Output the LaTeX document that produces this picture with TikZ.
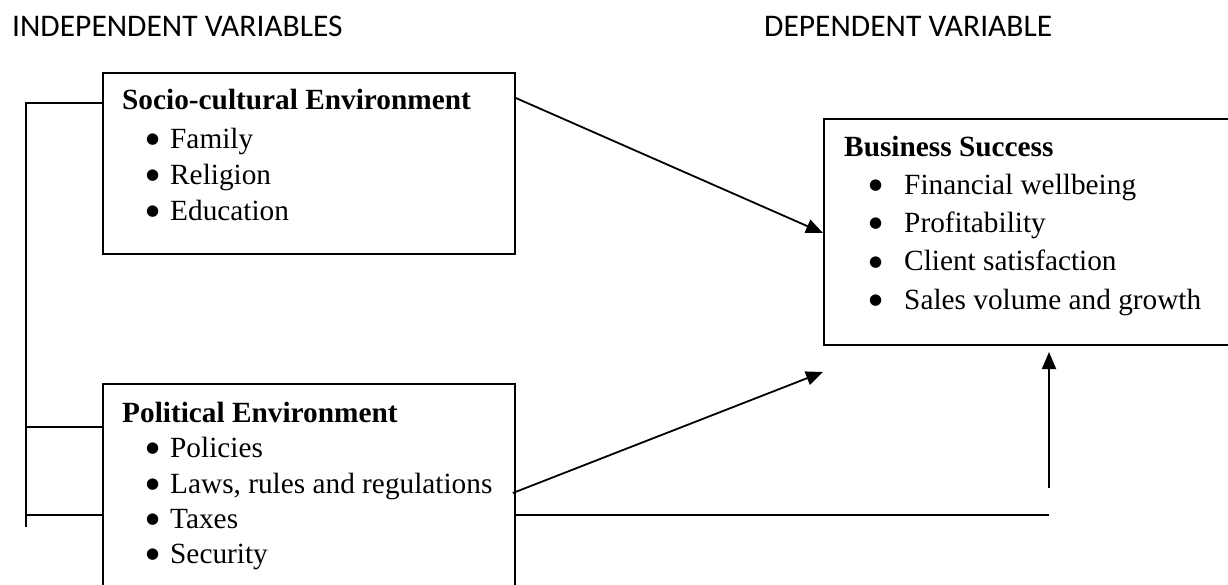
\documentclass[tikz,border=0pt]{standalone}
\usepackage{fontspec}
\setmainfont{Liberation Serif}
\newfontfamily\hdrfont{Carlito}
\newfontfamily\symfont{DejaVu Sans}
\usetikzlibrary{arrows.meta,calc}
\tikzset{
  box/.style={draw, line width=1.8pt, inner sep=0pt, anchor=north west},
  conn/.style={line width=1.8pt},
  arr/.style={line width=1.8pt, -{Triangle[length=17pt,width=14pt]}},
  hdr/.style={inner sep=0pt, anchor=base west, font=\hdrfont\fontsize{31.5}{36}\selectfont},
  ttl/.style={inner sep=0pt, anchor=base west, font=\bfseries\fontsize{29.3}{34}\selectfont},
  itm/.style={inner sep=0pt, anchor=base west, font=\fontsize{29.3}{34}\selectfont},
  bul/.style={inner sep=0pt, anchor=base west, yshift=5pt, font=\symfont\fontsize{15}{15}\selectfont},
}
\begin{document}
\begin{tikzpicture}[x=1pt,y=-1pt]
\useasboundingbox (0,0) rectangle (1228,585);
\clip (0,0) rectangle (1228,585);
% headers
\node[hdr] (h1) at (12,37) {INDEPENDENT VARIABLES};
\node[hdr] (h2) at (764,37) {DEPENDENT VARIABLE};
% boxes
\node[box, minimum width=412pt, minimum height=181pt] (soc) at (102,72) {};
\node[box, minimum width=412pt, minimum height=240pt] (pol) at (102,383) {};
\node[box, minimum width=420pt, minimum height=226pt] (bs) at (823,118) {};
% socio-cultural text
\node[ttl] (t1) at (122,110) {Socio-cultural Environment};
\node[bul] (b11) at (146,149) {●}; \node[itm] (i11) at (170,149) {Family};
\node[bul] (b12) at (146,185) {●}; \node[itm] (i12) at (170,185) {Religion};
\node[bul] (b13) at (146,221) {●}; \node[itm] (i13) at (170,221) {Education};
% political text
\node[ttl] (t2) at (122,422) {Political Environment};
\node[bul] (b21) at (146,457) {●}; \node[itm] (i21) at (170,457) {Policies};
\node[bul] (b22) at (146,493) {●}; \node[itm] (i22) at (170,493) {Laws, rules and regulations};
\node[bul] (b23) at (146,528) {●}; \node[itm] (i23) at (170,528) {Taxes};
\node[bul] (b24) at (146,563) {●}; \node[itm] (i24) at (170,563) {Security};
% business success text
\node[ttl] (t3) at (844,157) {Business Success};
\node[bul] (b31) at (869,195) {●}; \node[itm] (i31) at (904,195) {Financial wellbeing};
\node[bul] (b32) at (869,233) {●}; \node[itm] (i32) at (904,233) {Profitability};
\node[bul] (b33) at (869,271) {●}; \node[itm] (i33) at (904,271) {Client satisfaction};
\node[bul] (b34) at (869,309) {●}; \node[itm] (i34) at (904,309) {Sales volume and growth};
% bracket
\coordinate (k1) at (26,103);
\coordinate (k2) at (26,427);
\coordinate (k3) at (26,515);
\coordinate (k4) at (26,527);
\draw[conn] (k4) -- (k1) -- (soc.west |- k1);
\draw[conn] (k2) -- (pol.west |- k2);
\draw[conn] (k3) -- (pol.west |- k3);
% arrows
\coordinate (a1s) at ($(soc.north east)+(0,26)$);
\coordinate (a1e) at ($(bs.north west)+(0,115)$);
\draw[arr] (a1s) -- (a1e);
\coordinate (a2s) at ($(pol.north east)+(-3,110)$);
\coordinate (a2e) at (823,372);
\draw[arr] (a2s) -- (a2e);
\coordinate (hl) at ($(pol.north east)+(0,132)$);
\coordinate (hr) at (1049,515);
\draw[conn] (hl) -- (hr);
\coordinate (vs) at (1049,488);
\coordinate (ve) at (1049,352);
\draw[arr] (vs) -- (ve);
\end{tikzpicture}
\end{document}
